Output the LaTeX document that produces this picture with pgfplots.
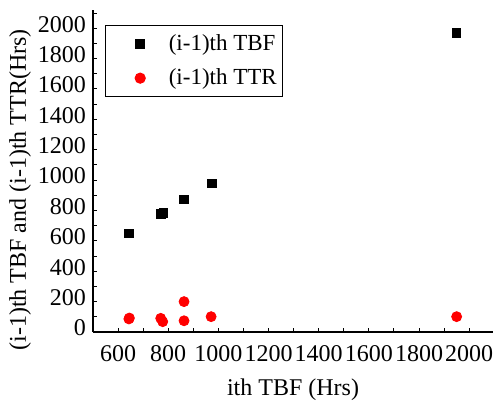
\documentclass[border=0pt]{standalone}
\usepackage{fontspec}
\setmainfont{Liberation Serif}
\usepackage{pgfplots}
\pgfplotsset{compat=1.18}

\begin{document}
\begin{tikzpicture}
% page size: 496x406 px at 0.5pt per px
\path[use as bounding box] (-46.5pt,-37pt) rectangle (201.5pt,166pt);
\begin{axis}[
    at={(0,0)}, anchor=south west,
    scale only axis, width=200pt, height=161pt,
    xmin=500, xmax=2095, ymin=0, ymax=2120,
    axis lines*=left, axis line style={line width=0.8pt},
    xtick={600,800,...,2000}, ytick={0,200,...,2000},
    minor xtick={500,700,...,2000}, minor ytick={100,300,...,2000},
    tick align=inside, major tick length=2pt, minor tick length=2pt,
    tick style={black, line width=0.5pt},
    /pgf/number format/assume math mode=true,
    /pgf/number format/set thousands separator={},
    tick label style={font=\fontsize{12}{13}\selectfont},
    xticklabel style={inner xsep=0pt, yshift=-3pt},
    yticklabel style={yshift=2pt},
    xlabel={ith TBF (Hrs)},
    ylabel={(i-1)th TBF and (i-1)th TTR(Hrs)},
    label style={font=\fontsize{12}{13}\selectfont},
    xlabel style={at={(axis description cs:0.5,0)}, anchor=center, yshift=-29pt},
    ylabel style={at={(axis description cs:-0.1825,0.441)}, anchor=center},
    legend style={at={(0.03,0.953)}, anchor=north west, draw=black, line width=0.6pt,
        font=\fontsize{11.5}{13}\selectfont, inner xsep=2pt, inner ysep=2.5pt,
        row sep=3.5pt, cells={anchor=west}},
    legend image code/.code={\path (0pt,0pt) (27pt,0pt);
        \draw[#1] plot coordinates {(15pt,0pt)};},
    clip=false,
]
\addplot[only marks, mark=square*, mark size=2.1pt, black] coordinates {
    (643,650) (770,778) (780,784) (863,873) (974,978) (1950,1969)
};
\addlegendentry{(i-1)th TBF\kern-1pt}
\addplot[only marks, mark=*, mark size=2.5pt, red, mark options={draw=red, fill=red}] coordinates {
    (643,86) (645,92) (770,90) (778,68) (863,200) (863,74) (971,101) (1950,101)
};
\addlegendentry{(i-1)th TTR\kern-1pt}
\end{axis}
\end{tikzpicture}
\end{document}
